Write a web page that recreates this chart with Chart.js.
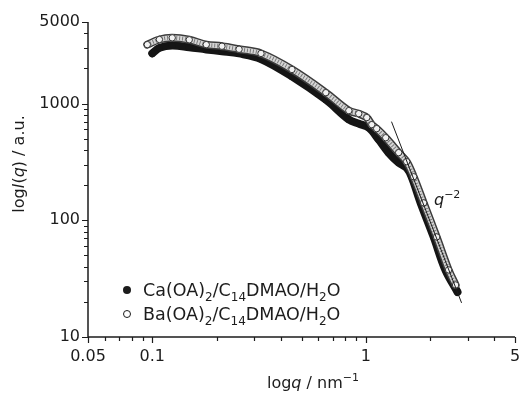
<!DOCTYPE html>
<html>
<head>
<meta charset="utf-8">
<script src="https://cdn.jsdelivr.net/npm/chart.js@4/dist/chart.umd.min.js"></script>
<style>
  html,body{margin:0;padding:0;background:#fff}
  #wrap{width:520px;height:394px}
</style>
</head>
<body>
<div id="wrap"><canvas id="c" width="520" height="394"></canvas></div>
<script>
// SAXS curves: q in nm^-1, I(q) in a.u.
const caQ = [0.100, 0.108, 0.124, 0.149, 0.179, 0.212, 0.255, 0.323, 0.451, 0.650, 0.833, 0.927, 1.033, 1.15, 1.28, 1.426, 1.554, 1.64, 1.807, 2.08, 2.36, 2.69];
const caI = [2690, 3000, 3150, 3040, 2910, 2810, 2690, 2410, 1710, 1080, 730, 673, 622, 491, 379, 312, 282, 236, 141, 72, 37.6, 24.3];
const baQ = [0.0948, 0.108, 0.124, 0.149, 0.179, 0.212, 0.255, 0.323, 0.451, 0.650, 0.833, 0.927, 1.011, 1.067, 1.125, 1.24, 1.426, 1.554, 1.676, 1.867, 2.147, 2.443, 2.634];
const baI = [3200, 3540, 3660, 3520, 3200, 3100, 2920, 2690, 1960, 1240, 870, 820, 759, 660, 610, 510, 380, 318, 236, 141, 72, 37.6, 27.9];
// guide line labelled q^-2
const slopeQ = [1.32, 2.81];
const slopeI = [700, 19.6];

const xTicks = [0.05,0.06,0.07,0.08,0.09,0.1,0.2,0.3,0.4,0.5,0.6,0.7,0.8,0.9,1,2,3,4,5];
const xLabels = [0.05, 0.1, 1, 5];
const yTicks = [10,20,30,40,50,60,70,80,90,100,200,300,400,500,600,700,800,900,1000,2000,3000,4000,5000];
const yLabels = [10, 100, 1000, 5000];

const FONT = '"DejaVu Sans", sans-serif';
const INK = '#1c1c1c';

const pts = (qs, is) => qs.map((q, i) => ({x: q, y: is[i]}));

// text with italic / sub / superscript pieces
function rich(ctx, parts, x, y, size, measure) {
  let cx = x;
  for (const p of parts) {
    const small = p.sub || p.sup;
    const fs = small ? Math.round(size * 0.7) : size;
    ctx.font = `${p.it ? 'italic ' : ''}${fs}px ${FONT}`;
    const dy = p.sub ? size * 0.3 : p.sup ? -size * 0.45 : 0;
    if (!measure) ctx.fillText(p.t, cx, y + dy);
    cx += ctx.measureText(p.t).width;
  }
  return cx - x;
}
const T = (t, o = {}) => Object.assign({t}, o);
const legendText = m => [T(m + '(OA)'), T('2', {sub: 1}), T('/C'), T('14', {sub: 1}), T('DMAO/H'), T('2', {sub: 1}), T('O')];

const decor = {
  id: 'decor',
  afterDatasetDraw(chart, args) {
    // mottled core on the open-circle band (overlapping rings), then its markers again on top
    if (chart.data.datasets[args.index].label !== 'Ba') return;
    const {ctx, chartArea: a} = chart, meta = args.meta;
    ctx.save();
    ctx.beginPath(); ctx.rect(a.left, a.top, a.right - a.left, a.bottom - a.top); ctx.clip();
    ctx.lineJoin = 'round'; ctx.lineCap = 'butt'; ctx.lineWidth = 5;
    ctx.beginPath(); meta.dataset.path(ctx);
    ctx.strokeStyle = '#d6d6d6'; ctx.stroke();
    ctx.setLineDash([1, 2]); ctx.strokeStyle = '#7a7a7a'; ctx.lineWidth = 4;
    ctx.beginPath(); meta.dataset.path(ctx); ctx.stroke();
    ctx.setLineDash([]);
    meta.data.forEach(p => p.draw(ctx, a));
    ctx.restore();
  },
  afterDraw(chart) {
    const {ctx, chartArea: a, scales: {x, y}} = chart;
    ctx.save();
    ctx.strokeStyle = INK; ctx.fillStyle = INK; ctx.lineWidth = 1.5;
    ctx.beginPath();
    ctx.moveTo(a.left, a.top); ctx.lineTo(a.left, a.bottom); ctx.lineTo(a.right, a.bottom);
    ctx.stroke();
    ctx.lineWidth = 1.2;
    ctx.beginPath();
    xTicks.forEach(v => { const px = Math.round(x.getPixelForValue(v)) + 0.5, l = xLabels.includes(v) ? 6 : 4;
      ctx.moveTo(px, a.bottom); ctx.lineTo(px, a.bottom + l); });
    yTicks.forEach(v => { const py = Math.round(y.getPixelForValue(v)) + 0.5, l = yLabels.includes(v) ? 6 : 4;
      ctx.moveTo(a.left, py); ctx.lineTo(a.left - l, py); });
    ctx.stroke();

    ctx.textBaseline = 'alphabetic'; ctx.textAlign = 'left';
    // axis titles
    const xt = [T('log'), T('q', {it: 1}), T(' / nm'), T('\u22121', {sup: 1})];
    const xw = rich(ctx, xt, 0, 0, 16, true);
    rich(ctx, xt, 313 - xw / 2, 388, 16);
    const yt = [T('log'), T('I', {it: 1}), T('('), T('q', {it: 1}), T(') / a.u.')];
    const yw = rich(ctx, yt, 0, 0, 16, true);
    ctx.save(); ctx.translate(24, 164); ctx.rotate(-Math.PI / 2);
    rich(ctx, yt, -yw / 2, 0, 16); ctx.restore();
    // slope label
    rich(ctx, [T('q', {it: 1}), T('\u22122', {sup: 1})], 434, 205, 16);

    // legend
    ctx.beginPath(); ctx.arc(127, 290, 4, 0, Math.PI * 2); ctx.fill();
    ctx.beginPath(); ctx.arc(127, 314, 3.5, 0, Math.PI * 2); ctx.lineWidth = 1; ctx.stroke();
    rich(ctx, legendText('Ca'), 143, 296, 17.5);
    rich(ctx, legendText('Ba'), 143, 320, 17.5);
    ctx.restore();
  }
};

// keep the plot box fixed: no extra room for overhanging end labels
const noPad = s => { s.paddingLeft = s.paddingRight = s.paddingTop = s.paddingBottom = 0; };

new Chart(document.getElementById('c'), {
  type: 'scatter',
  data: {
    datasets: [
      {label: 'q-2', data: pts(slopeQ, slopeI), showLine: true, borderColor: INK, borderWidth: 1,
       pointRadius: 0, order: 0},
      {label: 'Ba', data: pts(baQ, baI), showLine: true, borderColor: '#3c3c3c', borderWidth: 8,
       borderCapStyle: 'round', borderJoinStyle: 'round', tension: 0.35,
       pointRadius: 3.2, pointBackgroundColor: '#f2f2f2', pointBorderColor: '#333', pointBorderWidth: 1, order: 1},
      {label: 'Ca', data: pts(caQ, caI), showLine: true, borderColor: '#151515', borderWidth: 8,
       borderCapStyle: 'round', borderJoinStyle: 'round', tension: 0.35,
       pointRadius: 3.5, pointBackgroundColor: '#151515', pointBorderWidth: 0, order: 2}
    ]
  },
  options: {
    responsive: false, animation: false, devicePixelRatio: 1,
    layout: {padding: {left: 0, top: 22, right: 4, bottom: 0}},
    plugins: {legend: {display: false}, tooltip: {enabled: false}},
    scales: {
      x: {type: 'logarithmic', min: 0.05, max: 5,
        afterBuildTicks: ax => { ax.ticks = xTicks.map(v => ({value: v})); },
        afterFit: s => { s.height = 57; noPad(s); },
        ticks: {autoSkip: false, maxRotation: 0, padding: 10, color: INK, font: {family: FONT, size: 16},
          callback: v => xLabels.includes(v) ? String(v) : ''},
        grid: {display: false, drawTicks: false}, border: {display: false}},
      y: {type: 'logarithmic', min: 10, max: 5000,
        afterBuildTicks: ax => { ax.ticks = yTicks.map(v => ({value: v})); },
        afterFit: s => { s.width = 88; noPad(s); },
        ticks: {autoSkip: false, padding: 8, color: INK, font: {family: FONT, size: 16},
          callback: v => yLabels.includes(v) ? String(v) : ''},
        grid: {display: false, drawTicks: false}, border: {display: false}}
    }
  },
  plugins: [decor]
});
</script>
</body>
</html>
